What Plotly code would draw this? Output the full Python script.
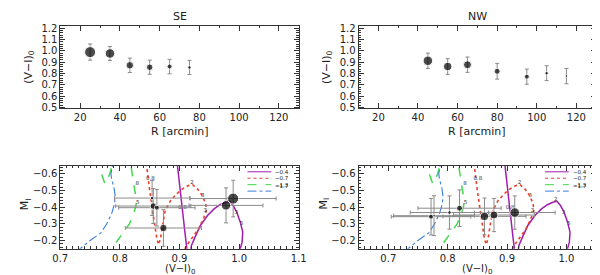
import plotly.graph_objects as go

# ---------------- data ----------------
se_r = [25, 35, 45, 55, 65, 75]
se_vi = [0.99, 0.978, 0.873, 0.856, 0.862, 0.854]
se_vi_err = [0.072, 0.062, 0.064, 0.063, 0.064, 0.063]
se_mi = [-0.452, -0.411, -0.275, -0.407, -0.397, -0.455]
se_mi_err = [0.11, 0.105, 0.11, 0.105, 0.11, 0.105]

nw_r = [45, 55, 65, 80, 95, 105, 115]
nw_vi = [0.913, 0.862, 0.878, 0.82, 0.772, 0.803, 0.777]
nw_vi_err = [0.068, 0.07, 0.068, 0.07, 0.067, 0.066, 0.068]
nw_mi = [-0.368, -0.345, -0.353, -0.394, -0.343, -0.368, -0.349]
nw_mi_err = [0.1, 0.11, 0.1, 0.11, 0.11, 0.1, 0.12]

# red clump model loci (V-I)0 vs M_I for four metallicities
iso_04_x = [0.895, 0.900, 0.905, 0.909, 0.912, 0.914, 0.917, 0.920, 0.926, 0.935, 0.947, 0.958,
            0.968, 0.977, 0.984, 0.990, 0.996, 1.002, 1.006, 1.005, 1.001, 0.998]
iso_04_y = [-0.70, -0.52, -0.38, -0.25, -0.15, -0.10, -0.10, -0.17, -0.22, -0.29, -0.35, -0.39,
            -0.415, -0.43, -0.435, -0.41, -0.37, -0.31, -0.25, -0.19, -0.14, -0.10]
iso_07_x = [0.843, 0.846, 0.850, 0.854, 0.858, 0.862, 0.865, 0.868, 0.872, 0.876, 0.885, 0.895,
            0.905, 0.915, 0.922, 0.930, 0.938, 0.944, 0.945, 0.940, 0.932, 0.922, 0.912, 0.905]
iso_07_y = [-0.70, -0.60, -0.50, -0.40, -0.30, -0.21, -0.175, -0.21, -0.30, -0.38, -0.44, -0.48,
            -0.51, -0.53, -0.535, -0.51, -0.47, -0.42, -0.38, -0.33, -0.27, -0.22, -0.17, -0.12]
iso_13_x = [0.760, 0.765, 0.770, 0.775, 0.779, 0.783, 0.787, 0.800, 0.818, 0.819, 0.821, 0.824,
            0.827, 0.827, 0.823, 0.816, 0.808, 0.800, 0.792, 0.785, 0.780]
iso_13_y = [-0.70, -0.64, -0.59, -0.54, -0.565, -0.60, -0.65, -0.75, -0.70, -0.64, -0.58, -0.52,
            -0.46, -0.41, -0.36, -0.30, -0.26, -0.22, -0.18, -0.15, -0.12]
iso_17_x = [0.728, 0.733, 0.750, 0.768, 0.778, 0.786, 0.791, 0.792, 0.790, 0.786, 0.785, 0.788, 0.790]
iso_17_y = [-0.12, -0.15, -0.20, -0.245, -0.30, -0.36, -0.42, -0.47, -0.52, -0.57, -0.60, -0.64, -0.70]

# age labels along the model loci
age_text = ["0.8", "0.8", "2", "3", "3", "2", "3", "5", "8", "5"]
age_x = [0.851, 0.905, 0.921, 0.939, 0.943, 0.982, 0.995, 1.004, 0.829, 0.830]
age_y = [-0.57, -0.40, -0.545, -0.47, -0.38, -0.445, -0.37, -0.30, -0.54, -0.43]

legend_labels = ["\u22120.4", "\u22120.7", "\u22121.3", "\u22121.7"]

# ---------------- styles ----------------
se_sizes = [11, 9.5, 7.5, 6.5, 5, 3.5]
nw_sizes = [9.5, 8.5, 8, 6, 5, 3.5, 2.5]
iso_styles = [
    dict(color="#a21caf", width=1.5, dash="solid"),
    dict(color="#e8402a", width=1.6, dash="dot"),
    dict(color="#3fd94a", width=1.5, dash="dash"),
    dict(color="#3a7ee0", width=1.1, dash="dashdot"),
]
iso_data = [(iso_04_x, iso_04_y), (iso_07_x, iso_07_y), (iso_13_x, iso_13_y), (iso_17_x, iso_17_y)]

FONT = "DejaVu Sans"
ERRC = "#8a8a8a"
FRAME = "#333333"
TXT = "#222222"

fig = go.Figure()

# top panels
fig.add_trace(go.Scatter(x=se_r, y=se_vi, mode="markers",
                         marker=dict(size=se_sizes, color="black"),
                         error_y=dict(type="data", array=se_vi_err, color=ERRC, thickness=1, width=2),
                         xaxis="x", yaxis="y", showlegend=False))
fig.add_trace(go.Scatter(x=nw_r, y=nw_vi, mode="markers",
                         marker=dict(size=nw_sizes, color="black"),
                         error_y=dict(type="data", array=nw_vi_err, color=ERRC, thickness=1, width=2),
                         xaxis="x2", yaxis="y2", showlegend=False))

# bottom panels: isochrones + age labels
for xa, ya in (("x3", "y3"), ("x4", "y4")):
    for (ix, iy), st in zip(iso_data, iso_styles):
        fig.add_trace(go.Scatter(x=ix, y=iy, mode="lines", line=st,
                                 xaxis=xa, yaxis=ya, showlegend=False, hoverinfo="skip"))
    fig.add_trace(go.Scatter(x=age_x, y=age_y, mode="text", text=age_text,
                             textfont=dict(family=FONT, size=5.5, color="#333"),
                             xaxis=xa, yaxis=ya, showlegend=False, hoverinfo="skip"))

fig.add_trace(go.Scatter(x=se_vi, y=se_mi, mode="markers",
                         marker=dict(size=se_sizes, color="black"),
                         error_x=dict(type="data", array=se_vi_err, color=ERRC, thickness=1, width=2),
                         error_y=dict(type="data", array=se_mi_err, color=ERRC, thickness=1, width=2),
                         xaxis="x3", yaxis="y3", showlegend=False))
fig.add_trace(go.Scatter(x=nw_vi, y=nw_mi, mode="markers",
                         marker=dict(size=nw_sizes, color="black"),
                         error_x=dict(type="data", array=nw_vi_err, color=ERRC, thickness=1, width=2),
                         error_y=dict(type="data", array=nw_mi_err, color=ERRC, thickness=1, width=2),
                         xaxis="x4", yaxis="y4", showlegend=False))

W, H = 600, 275
def dx(a, b):
    return [a / W, b / W]
def dy(top, bot):
    return [1 - bot / H, 1 - top / H]

tickfont = dict(family=FONT, size=10, color=TXT)
def axis(domain, rng, dtick, minor_dtick, anchor, tickformat=None, **kw):
    d = dict(domain=domain, range=rng, dtick=dtick, tick0=0, anchor=anchor,
             showline=True, linecolor=FRAME, linewidth=1, mirror="allticks",
             ticks="inside", ticklen=5, tickcolor=FRAME, tickwidth=1,
             minor=dict(dtick=minor_dtick, ticks="inside", ticklen=2.5, tickcolor=FRAME, tickwidth=1),
             showgrid=False, zeroline=False, tickfont=tickfont)
    if tickformat:
        d["tickformat"] = tickformat
    d.update(kw)
    return d

LX = dx(45.5, 290.5)
RX = dx(352, 596)
TY = dy(15, 100)
BY = dy(159, 244)

fig.update_layout(
    width=W, height=H, margin=dict(l=0, r=0, t=0, b=0),
    paper_bgcolor="white", plot_bgcolor="white",
    xaxis=axis(LX, [10, 130], 20, 10, "y"),
    yaxis=axis(TY, [0.49, 1.225], 0.1, 0.02, "x", tickformat=".1f"),
    xaxis2=axis(RX, [10, 130], 20, 10, "y2"),
    yaxis2=axis(TY, [0.49, 1.225], 0.1, 0.02, "x2", tickformat=".1f"),
    xaxis3=axis(LX, [0.7, 1.1], 0.1, 0.01, "y3", tickformat=".1f"),
    yaxis3=axis(BY, [-0.15, -0.648], 0.1, 0.02, "x3", tickformat=".1f"),
    xaxis4=axis(RX, [0.65, 1.05], 0.1, 0.01, "y4", tickformat=".1f"),
    yaxis4=axis(BY, [-0.15, -0.648], 0.1, 0.02, "x4", tickformat=".1f"),
)

def ann(text, xp, yp, size=11, angle=0, xanchor="center"):
    fig.add_annotation(text=text, x=xp / W, y=1 - yp / H, xref="paper", yref="paper",
                       showarrow=False, textangle=angle, xanchor=xanchor, yanchor="middle",
                       font=dict(family=FONT, size=size, color=TXT))

# panel titles and axis titles
for (txt, xd) in (("SE", LX), ("NW", RX)):
    cx = (xd[0] + xd[1]) / 2 * W
    ann(txt, cx, 6, size=11)
    ann("R [arcmin]", cx, 124, size=11)
    ann("(V\u2212I)<sub>0</sub>", cx, 265, size=10)
    lx = xd[0] * W
    ann("(V\u2212I)<sub>0</sub>", lx - 33, 57, size=11, angle=-90)
    ann("M<sub>I</sub>", lx - 36, 198, size=11, angle=-90)

# manual legend in bottom panels
for xd in (LX, RX):
    x0 = xd[0] + (xd[1] - xd[0]) * 0.785
    x1 = xd[0] + (xd[1] - xd[0]) * 0.885
    for i, (st, lab) in enumerate(zip(iso_styles, legend_labels)):
        yy = 1 - (165 + 6.6 * i) / H
        fig.add_shape(type="line", x0=x0, x1=x1, y0=yy, y1=yy, xref="paper", yref="paper",
                      line=dict(color=st["color"], width=1, dash=st["dash"]))
        fig.add_annotation(text=lab, x=x1 + 0.003, y=yy, xref="paper", yref="paper", xanchor="left",
                           showarrow=False, font=dict(family=FONT, size=5.5, color=TXT))

fig.write_html("out.html")
